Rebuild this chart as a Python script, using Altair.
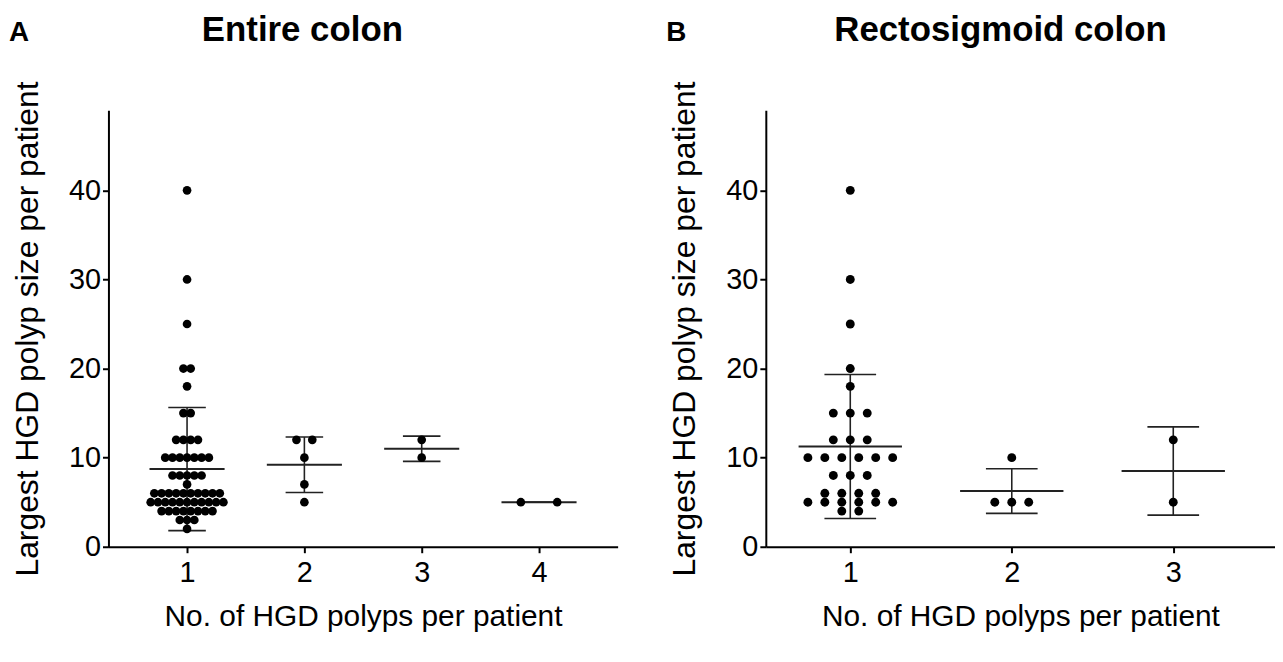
import altair as alt
import pandas as pd
import numpy as np

# ---------------- data ----------------
# Panel A: Entire colon, largest HGD polyp size per patient (mm) by no. of HGD polyps
a_g1 = [40, 30, 25, 20, 20, 18, 15, 15,
        12, 12, 12, 12,
        10, 10, 10, 10, 10, 10, 10,
        8, 8, 8, 8, 8,
        7,
        6, 6, 6, 6, 6, 6, 6, 6, 6, 6,
        5, 5, 5, 5, 5, 5, 5, 5, 5, 5, 5,
        4, 4, 4, 4, 4, 4, 4, 4,
        3, 3, 3,
        2]
a_g2 = [12, 12, 10, 7, 5]
a_g3 = [12, 10]
a_g4 = [5, 5]

# Panel B: Rectosigmoid colon
b_g1 = [40, 30, 25, 20, 18,
        15, 15, 15,
        12, 12, 12,
        10, 10, 10, 10, 10, 10,
        8, 8, 8,
        6, 6, 6, 6,
        5, 5, 5, 5, 5, 5,
        4, 4]
b_g2 = [10, 5, 5, 5]
b_g3 = [12, 5]

a_categories = [1, 2, 3, 4]
b_categories = [1, 2, 3]
y_ticks = [0, 10, 20, 30, 40]

FONT = "Liberation Sans"


def build(groups, spacing):
    pts = []
    stats = []
    for g in sorted(groups):
        vals = groups[g]
        counts = {}
        for v in vals:
            counts[v] = counts.get(v, 0) + 1
        seen = {}
        for v in vals:
            i = seen.get(v, 0)
            seen[v] = i + 1
            n = counts[v]
            off = (i - (n - 1) / 2) * spacing[g]
            pts.append({"g": g, "x": g + off, "y": v})
        arr = np.array(vals, dtype=float)
        m = arr.mean()
        sd = arr.std(ddof=1) if len(arr) > 1 else 0.0
        stats.append({"g": g, "mean": m, "lo": m - sd, "hi": m + sd})
    return pd.DataFrame(pts), pd.DataFrame(stats)


def panel(groups, spacing, xdomain, ticks, title, title_dx, letter, dot_size):
    pts, st = build(groups, spacing)
    st["m1"] = st["g"] - 0.32
    st["m2"] = st["g"] + 0.32
    st["c1"] = st["g"] - 0.16
    st["c2"] = st["g"] + 0.16

    xscale = alt.Scale(domain=xdomain, nice=False, zero=False)
    yscale = alt.Scale(domain=[0, 49], nice=False)
    xaxis = alt.Axis(values=ticks, format="d", title="No. of HGD polyps per patient",
                     labelFontSize=29, titleFontSize=30, titleFontWeight="normal",
                     tickSize=6, tickWidth=2, domainWidth=2, domainColor="black",
                     tickColor="black", labelColor="black", titleColor="black",
                     labelPadding=6, titlePadding=14, grid=False, labelFont=FONT,
                     titleFont=FONT)
    yaxis = alt.Axis(values=y_ticks, title="Largest HGD polyp size per patient",
                     labelFontSize=29, titleFontSize=32, titleFontWeight="normal",
                     tickSize=6, tickWidth=2, domainWidth=2, domainColor="black",
                     tickColor="black", labelColor="black", titleColor="black",
                     labelPadding=2, titlePadding=24, grid=False, labelFont=FONT,
                     titleFont=FONT)

    dots = alt.Chart(pts).mark_circle(color="black", opacity=1, size=dot_size).encode(
        x=alt.X("x:Q", scale=xscale, axis=xaxis),
        y=alt.Y("y:Q", scale=yscale, axis=yaxis),
    )
    base = alt.Chart(st)
    meanline = base.mark_rule(color="#222222", strokeWidth=2).encode(
        x=alt.X("m1:Q", scale=xscale), x2="m2:Q", y=alt.Y("mean:Q", scale=yscale))
    vline = base.mark_rule(color="#222222", strokeWidth=1.6).encode(
        x=alt.X("g:Q", scale=xscale), y=alt.Y("lo:Q", scale=yscale), y2="hi:Q")
    caphi = base.mark_rule(color="#222222", strokeWidth=1.6).encode(
        x=alt.X("c1:Q", scale=xscale), x2="c2:Q", y=alt.Y("hi:Q", scale=yscale))
    caplo = base.mark_rule(color="#222222", strokeWidth=1.6).encode(
        x=alt.X("c1:Q", scale=xscale), x2="c2:Q", y=alt.Y("lo:Q", scale=yscale))
    lab = alt.Chart(pd.DataFrame({"t": [letter]})).mark_text(
        font=FONT, fontSize=28, fontWeight="bold", color="black", align="center",
        baseline="alphabetic").encode(x=alt.value(-90), y=alt.value(-70), text="t:N")
    ttl = alt.Chart(pd.DataFrame({"t": [title]})).mark_text(
        font=FONT, fontSize=35, fontWeight="bold", color="black", align="center",
        baseline="alphabetic").encode(x=alt.value(title_dx), y=alt.value(-70), text="t:N")

    return alt.layer(vline, caphi, caplo, meanline, dots, lab, ttl).properties(
        width=512, height=439,
        view=alt.ViewBackground(stroke="transparent", strokeWidth=0))


left = panel({1: a_g1, 2: a_g2, 3: a_g3, 4: a_g4},
             {1: 0.062, 2: 0.135, 3: 0.135, 4: 0.31},
             [0.33, 4.67], a_categories, "Entire colon", 195, "A", 76)
right = panel({1: b_g1, 2: b_g2, 3: b_g3},
              {1: 0.105, 2: 0.105, 3: 0.105},
              [0.477, 3.63], b_categories, "Rectosigmoid colon", 236, "B", 80)

chart = alt.hconcat(left, right, spacing=48).properties(
    padding={"left": 0, "top": 3, "right": 0, "bottom": 0}
).configure_view(strokeWidth=0, stroke="transparent").configure(
    font=FONT, background="white")

chart.save("out.html", embed_options={"renderer": "svg", "actions": False})
